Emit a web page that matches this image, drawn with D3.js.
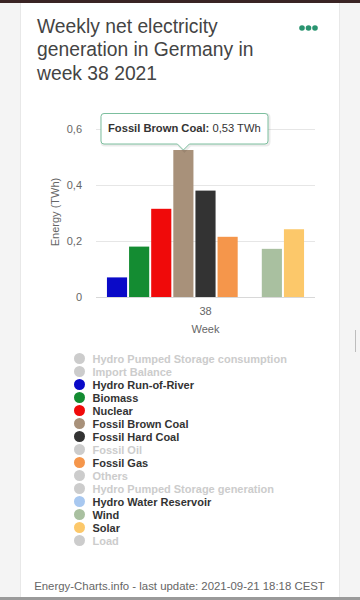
<!DOCTYPE html>
<html><head><meta charset="utf-8">
<script src="https://cdn.jsdelivr.net/npm/d3@7/dist/d3.min.js"></script>
<style>
html,body{margin:0;padding:0;background:#f4f4f4;}
svg{display:block;font-family:"Liberation Sans",Arial,Helvetica,sans-serif;}
</style></head><body>
<svg id="c" width="360" height="600"></svg>
<script>
const title = ["Weekly net electricity", "generation in Germany in", "week 38 2021"];
const weeks = ["38"];
const legendNames = ["Hydro Pumped Storage consumption","Import Balance","Hydro Run-of-River","Biomass","Nuclear","Fossil Brown Coal","Fossil Hard Coal","Fossil Oil","Fossil Gas","Others","Hydro Pumped Storage generation","Hydro Water Reservoir","Wind","Solar","Load"];
const legendVisible = [false,false,true,true,true,true,true,false,true,false,false,true,true,true,false];
const legendColors = ["#cccccc","#cccccc","#0a0ac8","#148c32","#f00a0a","#a8917a","#333333","#cccccc","#f5964b","#cccccc","#cccccc","#a8c8f0","#a9c0a0","#fcc86a","#cccccc"];
const seriesNames = ["Hydro Run-of-River","Biomass","Nuclear","Fossil Brown Coal","Fossil Hard Coal","Fossil Gas","Hydro Water Reservoir","Wind","Solar"];
const seriesValues = [0.07,0.18,0.315,0.525,0.38,0.215,0,0.172,0.242];
const yTicks = [0,0.2,0.4,0.6];
const tooltipSeries = "Fossil Brown Coal";
const footer = "Energy-Charts.info - last update: 2021-09-21 18:18 CEST";

const svg = d3.select("#c");
// top strip
svg.append("rect").attr("x",0).attr("y",0).attr("width",360).attr("height",3).attr("fill","#3a2424");
// card
svg.append("rect").attr("x",20).attr("y",3).attr("width",320).attr("height",594).attr("fill","#ffffff");
svg.append("line").attr("x1",20.5).attr("x2",20.5).attr("y1",3).attr("y2",597).attr("stroke","#e8e8e8");
svg.append("line").attr("x1",339.5).attr("x2",339.5).attr("y1",3).attr("y2",597).attr("stroke","#e8e8e8");
svg.append("rect").attr("x",0).attr("y",597).attr("width",360).attr("height",3).attr("fill","#9a9a9a");
svg.append("line").attr("x1",355.5).attr("x2",355.5).attr("y1",330).attr("y2",352).attr("stroke","#bdbdbd");

// title
svg.append("g").selectAll("text").data(title).join("text")
  .attr("x",37).attr("y",(d,i)=>33+i*23.3)
  .attr("font-size",19.3).attr("fill","#444").text(d=>d);
// menu dots
svg.append("g").selectAll("circle").data([0,1,2]).join("circle")
  .attr("cx",d=>302+d*6.5).attr("cy",28).attr("r",2.8).attr("fill","#2a9470");

// scales
const x0 = d3.scaleBand().domain(weeks).range([96,315]).paddingInner(0.1).paddingOuter(0.05);
const x1 = d3.scaleBand().domain(seriesNames).range([0,x0.bandwidth()]).paddingInner(0.09);
const y = d3.scaleLinear().domain([0,0.6]).range([297,129]);
const fmt = v => d3.format(".1f")(v).replace(".",",");
const colorOf = n => legendColors[legendNames.indexOf(n)];

// grid
const yAxis = d3.axisLeft(y).tickValues(yTicks).tickSize(-(315-96)).tickFormat(d=> d===0?"0":fmt(d)).tickPadding(14);
const ga = svg.append("g").attr("transform","translate(96,0)").call(yAxis);
ga.select(".domain").remove();
ga.selectAll(".tick line").attr("stroke","#e6e6e6");
ga.selectAll(".tick text").attr("fill","#666").attr("font-size",11).attr("font-family","Liberation Sans, Arial, sans-serif");
ga.selectAll(".tick").filter(d=>d===0).select("line").attr("stroke","#d8d8d8");

// x axis
const xAxis = d3.axisBottom(x0).tickSize(0).tickPadding(10);
const gx = svg.append("g").attr("transform","translate(0,297)").call(xAxis);
gx.select(".domain").remove();
gx.selectAll(".tick text").attr("fill","#666").attr("font-size",11).attr("font-family","Liberation Sans, Arial, sans-serif");

// axis titles
svg.append("text").attr("transform","translate(59,212) rotate(-90)").attr("text-anchor","middle")
  .attr("font-size",11).attr("fill","#666").text("Energy (TWh)");
svg.append("text").attr("x",x0("38")+x0.bandwidth()/2).attr("y",333).attr("text-anchor","middle")
  .attr("font-size",11).attr("fill","#666").text("Week");

// bars
svg.append("g").selectAll("rect").data(seriesNames.map((n,i)=>({n,v:seriesValues[i]}))).join("rect")
  .attr("x",d=>x0("38")+x1(d.n)).attr("width",x1.bandwidth())
  .attr("y",d=>y(d.v)).attr("height",d=>y(0)-y(d.v))
  .attr("fill",d=>colorOf(d.n));

// tooltip
const ti = seriesNames.indexOf(tooltipSeries);
const tv = seriesValues[ti];
const px = x0("38")+x1(tooltipSeries)+x1.bandwidth()/2;
const py = y(tv);
const bx0=101, bx1=268, by0=113.5, by1=144;
const tipPath = `M${bx0+3},${by0} L${bx1-3},${by0} Q${bx1},${by0} ${bx1},${by0+3} L${bx1},${by1-3} Q${bx1},${by1} ${bx1-3},${by1} L${px+6},${by1} L${px},${py} L${px-6},${by1} L${bx0+3},${by1} Q${bx0},${by1} ${bx0},${by1-3} L${bx0},${by0+3} Q${bx0},${by0} ${bx0+3},${by0} Z`;
svg.append("path").attr("d",tipPath).attr("transform","translate(1,1)").attr("fill","none").attr("stroke","rgba(0,0,0,0.08)").attr("stroke-width",3);
svg.append("path").attr("d",tipPath).attr("fill","rgba(255,255,255,0.97)").attr("stroke","#7cbf9e").attr("stroke-width",1);
const tt = svg.append("text").attr("x",108).attr("y",132).attr("font-size",11.2).attr("fill","#333");
tt.append("tspan").attr("font-weight","bold").text(tooltipSeries+":");
tt.append("tspan").text(" "+tv.toFixed(2).replace(".",",")+" TWh");

// legend
const lg = svg.append("g").selectAll("g").data(legendNames).join("g")
  .attr("transform",(d,i)=>`translate(0,${358.5+i*13})`);
lg.append("circle").attr("cx",79.5).attr("cy",0).attr("r",5.5).attr("fill",(d,i)=>legendColors[i]);
lg.append("text").attr("x",92.5).attr("y",4).attr("font-size",11).attr("font-weight","bold")
  .attr("fill",(d,i)=>legendVisible[i]?"#333":"#cccccc").text(d=>d);

// footer
svg.append("text").attr("x",179.5).attr("y",590).attr("text-anchor","middle").attr("font-size",11.4).attr("fill","#666").text(footer);
</script></body></html>
